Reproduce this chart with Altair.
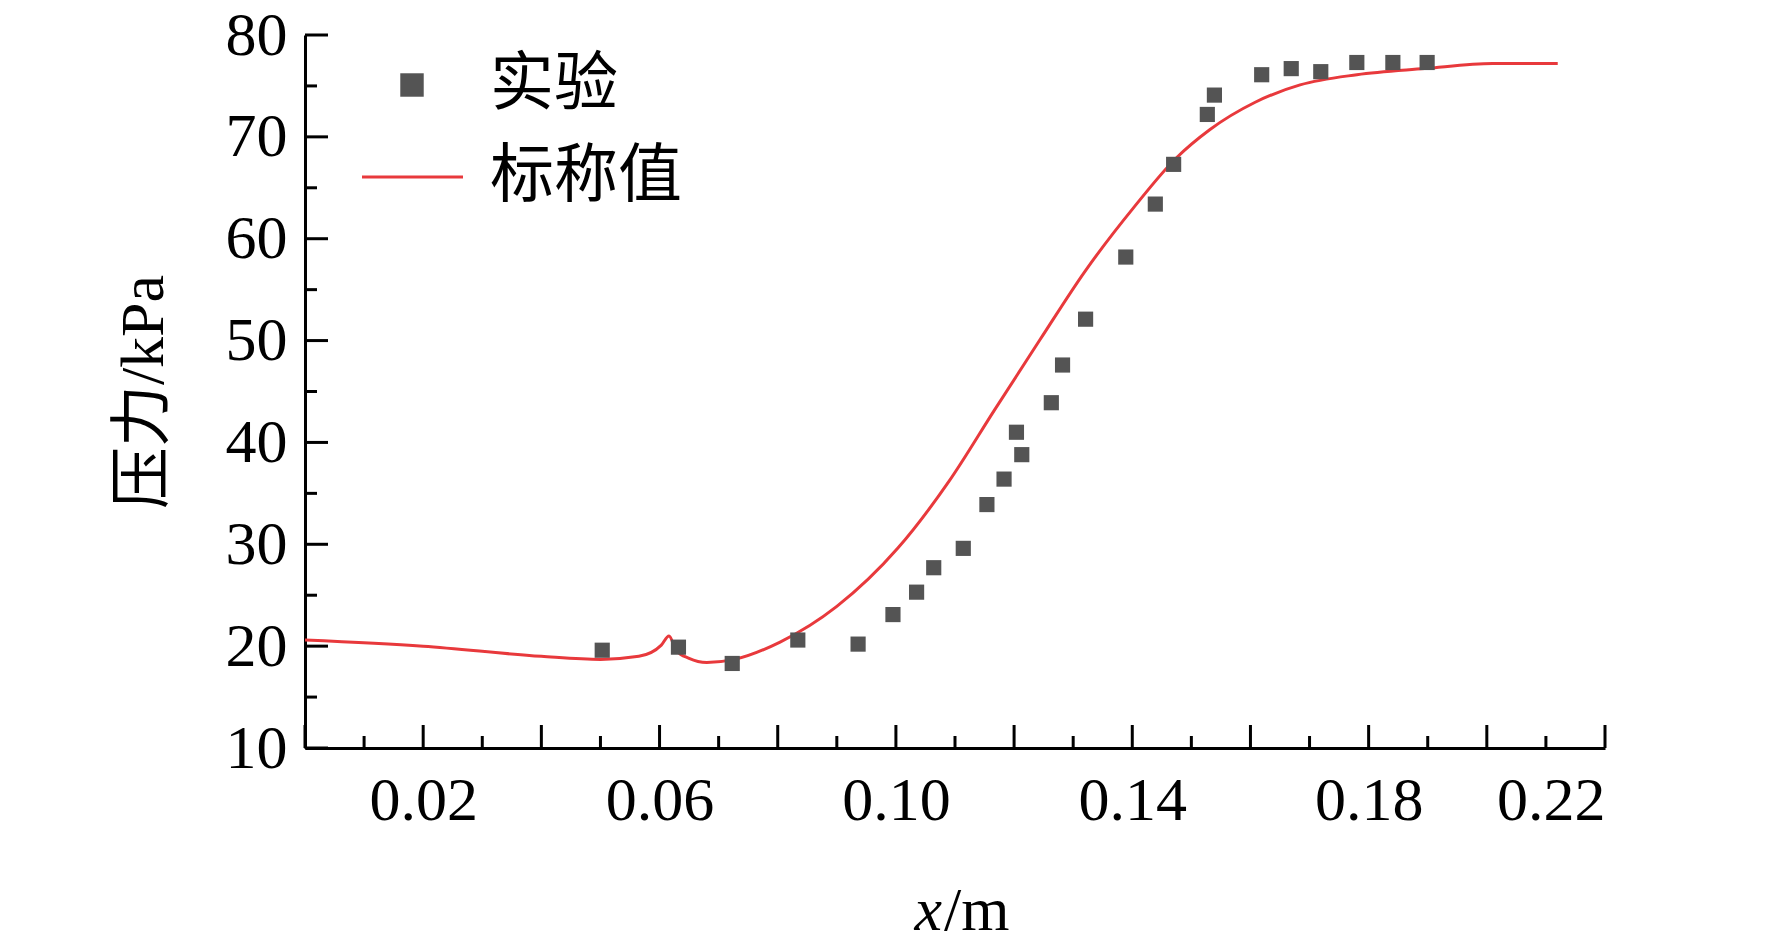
import pandas as pd
import altair as alt

# experiment points
exp_x = [0.0503, 0.0632, 0.0723, 0.0834, 0.0936, 0.0995, 0.1035, 0.1064, 0.1114, 0.1154,
         0.1183, 0.1204, 0.1213, 0.1263, 0.1282, 0.1321, 0.1389, 0.1439, 0.1470, 0.1527,
         0.1539, 0.1619, 0.1669, 0.1719, 0.1780, 0.1841, 0.1899]
exp_y = [19.6, 19.9, 18.3, 20.6, 20.2, 23.1, 25.3, 27.7, 29.6, 33.9,
         36.4, 41.0, 38.8, 43.9, 47.6, 52.1, 58.2, 63.4, 67.3, 72.2,
         74.1, 76.1, 76.7, 76.4, 77.3, 77.3, 77.3]

# nominal curve
nom_x = [0.0, 0.02, 0.04, 0.05, 0.0565, 0.0603, 0.0616, 0.0628, 0.065, 0.068, 0.0727,
         0.0804, 0.09, 0.1003, 0.109, 0.1167, 0.1244, 0.132, 0.1403, 0.1474, 0.1531,
         0.1608, 0.1684, 0.178, 0.1895, 0.201, 0.212]
nom_y = [20.6, 20.0, 19.0, 18.7, 19.0, 20.1, 21.0, 19.6, 18.8, 18.4, 18.7,
         20.4, 23.9, 29.6, 36.2, 43.2, 50.1, 56.8, 63.1, 67.9, 70.7,
         73.4, 75.1, 76.1, 76.7, 77.2, 77.2]

x_major = [0.0, 0.02, 0.04, 0.06, 0.08, 0.10, 0.12, 0.14, 0.16, 0.18, 0.20, 0.22]
x_minor = [0.01, 0.03, 0.05, 0.07, 0.09, 0.11, 0.13, 0.15, 0.17, 0.19, 0.21]
x_labels = [0.02, 0.06, 0.10, 0.14, 0.18, 0.22]
y_major = [10, 20, 30, 40, 50, 60, 70, 80]
y_minor = [15, 25, 35, 45, 55, 65, 75]

FONT = "Liberation Serif, Noto Sans CJK SC"
RED = "#e8393c"
GREY = "#545454"
W, H = 1300, 713

xs = alt.Scale(domain=[0, 0.22], nice=False)
ys = alt.Scale(domain=[10, 80], nice=False)

exp_df = pd.DataFrame({"x": exp_x, "y": exp_y})
nom_df = pd.DataFrame({"x": nom_x, "y": nom_y})

line = alt.Chart(nom_df).mark_line(color=RED, strokeWidth=3, interpolate="monotone").encode(
    x=alt.X("x:Q", scale=xs, title=None,
            axis=alt.Axis(values=x_labels, format=".2f", tickSize=0, labelPadding=22,
                          domainWidth=3, domainColor="black", grid=False)),
    y=alt.Y("y:Q", scale=ys, title="压力/kPa",
            axis=alt.Axis(values=y_major, tickSize=0, labelPadding=18, domainWidth=3,
                          domainColor="black", grid=False, titleX=-162, titleY=H / 2,
                          titleAlign="center", titleBaseline="middle", titleAngle=270)),
)
points = alt.Chart(exp_df).mark_square(color=GREY, size=230, opacity=1).encode(
    x=alt.X("x:Q", scale=xs), y=alt.Y("y:Q", scale=ys))

def xticks(vals, length):
    return alt.Chart(pd.DataFrame({"x": vals})).mark_rule(color="black", strokeWidth=3).encode(
        x=alt.X("x:Q", scale=xs), y=alt.value(H), y2=alt.value(H - length))

def yticks(vals, length):
    return alt.Chart(pd.DataFrame({"y": vals})).mark_rule(color="black", strokeWidth=3).encode(
        y=alt.Y("y:Q", scale=ys), x=alt.value(0), x2=alt.value(length))

leg_sq = alt.Chart(pd.DataFrame({"k": ["实验"]})).mark_square(color=GREY, size=550, opacity=1).encode(
    x=alt.value(107), y=alt.value(50))
leg_line = alt.Chart(pd.DataFrame({"k": ["标称值"]})).mark_rule(color=RED, strokeWidth=3).encode(
    x=alt.value(57), x2=alt.value(158), y=alt.value(142))
leg_text = alt.Chart(pd.DataFrame({"t": ["实验", "标称值"], "py": [50, 142]})).mark_text(
    font=FONT, fontSize=64, align="left", baseline="middle", color="black").encode(
    x=alt.value(185), y=alt.Y("py:Q", scale=None), text="t:N")

xt_italic = alt.Chart(pd.DataFrame({"t": ["x"]})).mark_text(
    font=FONT, fontSize=62, fontStyle="italic", align="right", baseline="middle", color="black"
).encode(x=alt.value(637), y=alt.value(H + 163), text="t:N")
xt_rest = alt.Chart(pd.DataFrame({"t": ["/m"]})).mark_text(
    font=FONT, fontSize=62, align="left", baseline="middle", color="black"
).encode(x=alt.value(639), y=alt.value(H + 163), text="t:N")

chart = alt.layer(
    xticks(x_major, 23), xticks(x_minor, 12), yticks(y_major, 23), yticks(y_minor, 12),
    line, points, leg_sq, leg_line, leg_text, xt_italic, xt_rest
).properties(
    width=W, height=H,
    autosize=alt.AutoSizeParams(type="none"),
    padding={"left": 297, "top": 27, "right": 150, "bottom": 190},
).configure_view(stroke=None).configure_axis(
    labelFont=FONT, titleFont=FONT, labelFontSize=62, titleFontSize=62,
    labelColor="black", titleColor="black", titleFontWeight="normal"
)

chart.save("out.html", embed_options={"renderer": "svg", "actions": False})
